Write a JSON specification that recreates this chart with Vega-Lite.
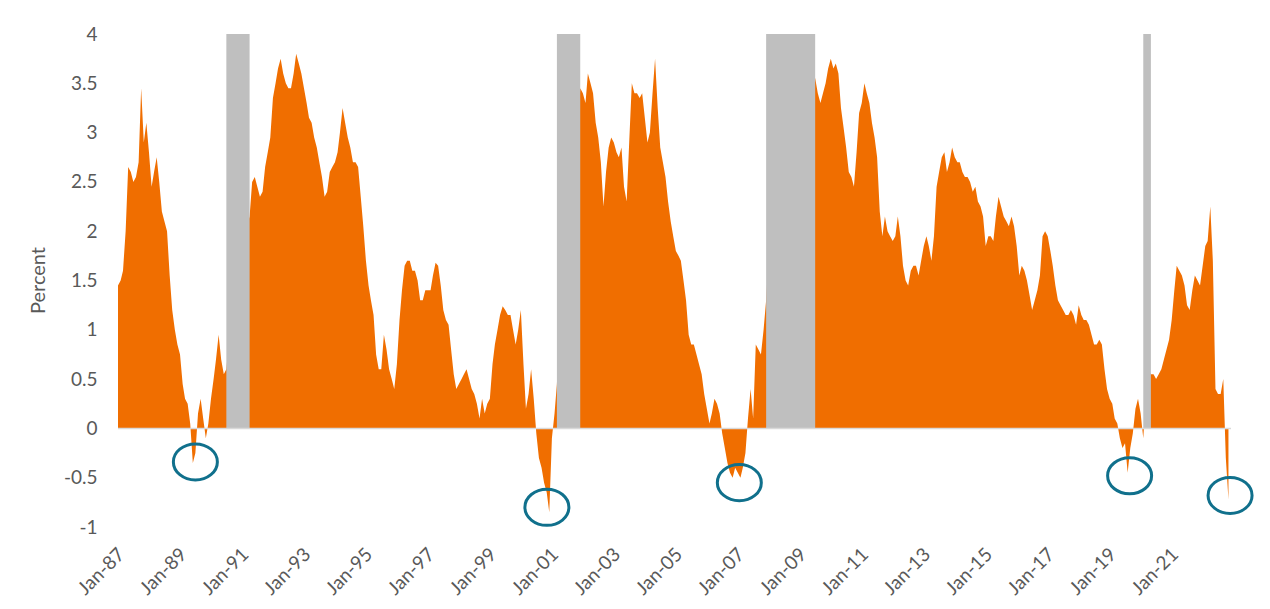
{
  "$schema": "https://vega.github.io/schema/vega-lite/v6.json",
  "width": 1113,
  "height": 493,
  "autosize": {"type": "none"},
  "padding": {"left": 118, "top": 34, "right": 39, "bottom": 82},
  "background": "white",
  "config": {"view": {"stroke": null}, "font": "Lato"},
  "datasets": {
    "spread": [
      {"date":"1987-01-01","value":1.45},{"date":"1987-02-01","value":1.5},{"date":"1987-03-01","value":1.6},{"date":"1987-04-01","value":2.0},{"date":"1987-05-01","value":2.65},{"date":"1987-06-01","value":2.6},{"date":"1987-07-01","value":2.5},{"date":"1987-08-01","value":2.55},{"date":"1987-09-01","value":2.7},{"date":"1987-10-01","value":3.45},{"date":"1987-11-01","value":2.9},{"date":"1987-12-01","value":3.1},
      {"date":"1988-01-01","value":2.8},{"date":"1988-02-01","value":2.45},{"date":"1988-03-01","value":2.6},{"date":"1988-04-01","value":2.75},{"date":"1988-05-01","value":2.5},{"date":"1988-06-01","value":2.2},{"date":"1988-07-01","value":2.1},{"date":"1988-08-01","value":2.0},{"date":"1988-09-01","value":1.55},{"date":"1988-10-01","value":1.2},{"date":"1988-11-01","value":1.0},{"date":"1988-12-01","value":0.85},
      {"date":"1989-01-01","value":0.75},{"date":"1989-02-01","value":0.45},{"date":"1989-03-01","value":0.3},{"date":"1989-04-01","value":0.25},{"date":"1989-05-01","value":0.05},{"date":"1989-06-01","value":-0.35},{"date":"1989-07-01","value":-0.25},{"date":"1989-08-01","value":0.15},{"date":"1989-09-01","value":0.3},{"date":"1989-10-01","value":0.1},{"date":"1989-11-01","value":-0.1},{"date":"1989-12-01","value":0.05},
      {"date":"1990-01-01","value":0.3},{"date":"1990-02-01","value":0.5},{"date":"1990-03-01","value":0.7},{"date":"1990-04-01","value":0.95},{"date":"1990-05-01","value":0.7},{"date":"1990-06-01","value":0.55},{"date":"1990-07-01","value":0.6},{"date":"1990-08-01","value":0.9},{"date":"1990-09-01","value":1.1},{"date":"1990-10-01","value":1.4},{"date":"1990-11-01","value":1.4},{"date":"1990-12-01","value":1.5},
      {"date":"1991-01-01","value":1.7},{"date":"1991-02-01","value":1.9},{"date":"1991-03-01","value":2.05},{"date":"1991-04-01","value":2.15},{"date":"1991-05-01","value":2.5},{"date":"1991-06-01","value":2.55},{"date":"1991-07-01","value":2.45},{"date":"1991-08-01","value":2.35},{"date":"1991-09-01","value":2.4},{"date":"1991-10-01","value":2.65},{"date":"1991-11-01","value":2.8},{"date":"1991-12-01","value":2.95},
      {"date":"1992-01-01","value":3.35},{"date":"1992-02-01","value":3.5},{"date":"1992-03-01","value":3.65},{"date":"1992-04-01","value":3.75},{"date":"1992-05-01","value":3.6},{"date":"1992-06-01","value":3.5},{"date":"1992-07-01","value":3.45},{"date":"1992-08-01","value":3.45},{"date":"1992-09-01","value":3.6},{"date":"1992-10-01","value":3.8},{"date":"1992-11-01","value":3.7},{"date":"1992-12-01","value":3.6},
      {"date":"1993-01-01","value":3.45},{"date":"1993-02-01","value":3.3},{"date":"1993-03-01","value":3.15},{"date":"1993-04-01","value":3.1},{"date":"1993-05-01","value":2.95},{"date":"1993-06-01","value":2.85},{"date":"1993-07-01","value":2.7},{"date":"1993-08-01","value":2.55},{"date":"1993-09-01","value":2.35},{"date":"1993-10-01","value":2.4},{"date":"1993-11-01","value":2.6},{"date":"1993-12-01","value":2.65},
      {"date":"1994-01-01","value":2.7},{"date":"1994-02-01","value":2.8},{"date":"1994-03-01","value":3.0},{"date":"1994-04-01","value":3.25},{"date":"1994-05-01","value":3.1},{"date":"1994-06-01","value":2.95},{"date":"1994-07-01","value":2.85},{"date":"1994-08-01","value":2.7},{"date":"1994-09-01","value":2.7},{"date":"1994-10-01","value":2.65},{"date":"1994-11-01","value":2.35},{"date":"1994-12-01","value":2.05},
      {"date":"1995-01-01","value":1.7},{"date":"1995-02-01","value":1.45},{"date":"1995-03-01","value":1.3},{"date":"1995-04-01","value":1.15},{"date":"1995-05-01","value":0.75},{"date":"1995-06-01","value":0.6},{"date":"1995-07-01","value":0.6},{"date":"1995-08-01","value":0.95},{"date":"1995-09-01","value":0.8},{"date":"1995-10-01","value":0.6},{"date":"1995-11-01","value":0.5},{"date":"1995-12-01","value":0.4},
      {"date":"1996-01-01","value":0.65},{"date":"1996-02-01","value":1.1},{"date":"1996-03-01","value":1.4},{"date":"1996-04-01","value":1.65},{"date":"1996-05-01","value":1.7},{"date":"1996-06-01","value":1.7},{"date":"1996-07-01","value":1.6},{"date":"1996-08-01","value":1.6},{"date":"1996-09-01","value":1.5},{"date":"1996-10-01","value":1.3},{"date":"1996-11-01","value":1.3},{"date":"1996-12-01","value":1.4},
      {"date":"1997-01-01","value":1.4},{"date":"1997-02-01","value":1.4},{"date":"1997-03-01","value":1.55},{"date":"1997-04-01","value":1.68},{"date":"1997-05-01","value":1.65},{"date":"1997-06-01","value":1.45},{"date":"1997-07-01","value":1.2},{"date":"1997-08-01","value":1.1},{"date":"1997-09-01","value":1.05},{"date":"1997-10-01","value":0.8},{"date":"1997-11-01","value":0.55},{"date":"1997-12-01","value":0.4},
      {"date":"1998-01-01","value":0.45},{"date":"1998-02-01","value":0.5},{"date":"1998-03-01","value":0.55},{"date":"1998-04-01","value":0.6},{"date":"1998-05-01","value":0.5},{"date":"1998-06-01","value":0.4},{"date":"1998-07-01","value":0.35},{"date":"1998-08-01","value":0.25},{"date":"1998-09-01","value":0.1},{"date":"1998-10-01","value":0.3},{"date":"1998-11-01","value":0.15},{"date":"1998-12-01","value":0.25},
      {"date":"1999-01-01","value":0.3},{"date":"1999-02-01","value":0.65},{"date":"1999-03-01","value":0.85},{"date":"1999-04-01","value":1.0},{"date":"1999-05-01","value":1.15},{"date":"1999-06-01","value":1.24},{"date":"1999-07-01","value":1.2},{"date":"1999-08-01","value":1.15},{"date":"1999-09-01","value":1.15},{"date":"1999-10-01","value":1.0},{"date":"1999-11-01","value":0.85},{"date":"1999-12-01","value":1.0},
      {"date":"2000-01-01","value":1.2},{"date":"2000-02-01","value":0.65},{"date":"2000-03-01","value":0.2},{"date":"2000-04-01","value":0.35},{"date":"2000-05-01","value":0.6},{"date":"2000-06-01","value":0.3},{"date":"2000-07-01","value":-0.05},{"date":"2000-08-01","value":-0.3},{"date":"2000-09-01","value":-0.4},{"date":"2000-10-01","value":-0.55},{"date":"2000-11-01","value":-0.65},{"date":"2000-12-01","value":-0.85},
      {"date":"2001-01-01","value":-0.1},{"date":"2001-02-01","value":0.15},{"date":"2001-03-01","value":0.45},{"date":"2001-04-01","value":1.0},{"date":"2001-05-01","value":1.7},{"date":"2001-06-01","value":1.9},{"date":"2001-07-01","value":1.8},{"date":"2001-08-01","value":1.7},{"date":"2001-09-01","value":2.3},{"date":"2001-10-01","value":2.4},{"date":"2001-11-01","value":2.9},{"date":"2001-12-01","value":3.45},
      {"date":"2002-01-01","value":3.4},{"date":"2002-02-01","value":3.3},{"date":"2002-03-01","value":3.6},{"date":"2002-04-01","value":3.5},{"date":"2002-05-01","value":3.4},{"date":"2002-06-01","value":3.1},{"date":"2002-07-01","value":2.95},{"date":"2002-08-01","value":2.7},{"date":"2002-09-01","value":2.25},{"date":"2002-10-01","value":2.6},{"date":"2002-11-01","value":2.85},{"date":"2002-12-01","value":2.95},
      {"date":"2003-01-01","value":2.9},{"date":"2003-02-01","value":2.8},{"date":"2003-03-01","value":2.75},{"date":"2003-04-01","value":2.85},{"date":"2003-05-01","value":2.45},{"date":"2003-06-01","value":2.3},{"date":"2003-07-01","value":2.9},{"date":"2003-08-01","value":3.5},{"date":"2003-09-01","value":3.4},{"date":"2003-10-01","value":3.4},{"date":"2003-11-01","value":3.35},{"date":"2003-12-01","value":3.4},
      {"date":"2004-01-01","value":3.15},{"date":"2004-02-01","value":2.9},{"date":"2004-03-01","value":3.0},{"date":"2004-04-01","value":3.4},{"date":"2004-05-01","value":3.75},{"date":"2004-06-01","value":3.25},{"date":"2004-07-01","value":2.85},{"date":"2004-08-01","value":2.7},{"date":"2004-09-01","value":2.55},{"date":"2004-10-01","value":2.3},{"date":"2004-11-01","value":2.1},{"date":"2004-12-01","value":1.95},
      {"date":"2005-01-01","value":1.8},{"date":"2005-02-01","value":1.75},{"date":"2005-03-01","value":1.7},{"date":"2005-04-01","value":1.5},{"date":"2005-05-01","value":1.3},{"date":"2005-06-01","value":0.95},{"date":"2005-07-01","value":0.85},{"date":"2005-08-01","value":0.85},{"date":"2005-09-01","value":0.75},{"date":"2005-10-01","value":0.65},{"date":"2005-11-01","value":0.55},{"date":"2005-12-01","value":0.35},
      {"date":"2006-01-01","value":0.2},{"date":"2006-02-01","value":0.05},{"date":"2006-03-01","value":0.15},{"date":"2006-04-01","value":0.3},{"date":"2006-05-01","value":0.25},{"date":"2006-06-01","value":0.15},{"date":"2006-07-01","value":-0.05},{"date":"2006-08-01","value":-0.2},{"date":"2006-09-01","value":-0.35},{"date":"2006-10-01","value":-0.45},{"date":"2006-11-01","value":-0.5},{"date":"2006-12-01","value":-0.4},
      {"date":"2007-01-01","value":-0.45},{"date":"2007-02-01","value":-0.5},{"date":"2007-03-01","value":-0.4},{"date":"2007-04-01","value":-0.25},{"date":"2007-05-01","value":0.1},{"date":"2007-06-01","value":0.4},{"date":"2007-07-01","value":0.1},{"date":"2007-08-01","value":0.85},{"date":"2007-09-01","value":0.8},{"date":"2007-10-01","value":0.75},{"date":"2007-11-01","value":1.0},{"date":"2007-12-01","value":1.3},
      {"date":"2008-01-01","value":1.8},{"date":"2008-02-01","value":2.0},{"date":"2008-03-01","value":2.3},{"date":"2008-04-01","value":2.4},{"date":"2008-05-01","value":2.1},{"date":"2008-06-01","value":2.2},{"date":"2008-07-01","value":2.3},{"date":"2008-08-01","value":2.1},{"date":"2008-09-01","value":2.4},{"date":"2008-10-01","value":3.0},{"date":"2008-11-01","value":3.3},{"date":"2008-12-01","value":2.3},
      {"date":"2009-01-01","value":2.4},{"date":"2009-02-01","value":2.6},{"date":"2009-03-01","value":2.7},{"date":"2009-04-01","value":2.8},{"date":"2009-05-01","value":3.2},{"date":"2009-06-01","value":3.5},{"date":"2009-07-01","value":3.55},{"date":"2009-08-01","value":3.4},{"date":"2009-09-01","value":3.3},{"date":"2009-10-01","value":3.4},{"date":"2009-11-01","value":3.5},{"date":"2009-12-01","value":3.65},
      {"date":"2010-01-01","value":3.75},{"date":"2010-02-01","value":3.65},{"date":"2010-03-01","value":3.7},{"date":"2010-04-01","value":3.6},{"date":"2010-05-01","value":3.25},{"date":"2010-06-01","value":3.05},{"date":"2010-07-01","value":2.85},{"date":"2010-08-01","value":2.6},{"date":"2010-09-01","value":2.55},{"date":"2010-10-01","value":2.45},{"date":"2010-11-01","value":2.8},{"date":"2010-12-01","value":3.2},
      {"date":"2011-01-01","value":3.3},{"date":"2011-02-01","value":3.5},{"date":"2011-03-01","value":3.4},{"date":"2011-04-01","value":3.3},{"date":"2011-05-01","value":3.1},{"date":"2011-06-01","value":2.95},{"date":"2011-07-01","value":2.75},{"date":"2011-08-01","value":2.2},{"date":"2011-09-01","value":1.95},{"date":"2011-10-01","value":2.15},{"date":"2011-11-01","value":2.0},{"date":"2011-12-01","value":1.95},
      {"date":"2012-01-01","value":1.9},{"date":"2012-02-01","value":1.95},{"date":"2012-03-01","value":2.15},{"date":"2012-04-01","value":1.95},{"date":"2012-05-01","value":1.65},{"date":"2012-06-01","value":1.5},{"date":"2012-07-01","value":1.45},{"date":"2012-08-01","value":1.6},{"date":"2012-09-01","value":1.65},{"date":"2012-10-01","value":1.65},{"date":"2012-11-01","value":1.55},{"date":"2012-12-01","value":1.7},
      {"date":"2013-01-01","value":1.85},{"date":"2013-02-01","value":1.95},{"date":"2013-03-01","value":1.85},{"date":"2013-04-01","value":1.7},{"date":"2013-05-01","value":1.95},{"date":"2013-06-01","value":2.45},{"date":"2013-07-01","value":2.6},{"date":"2013-08-01","value":2.75},{"date":"2013-09-01","value":2.8},{"date":"2013-10-01","value":2.6},{"date":"2013-11-01","value":2.7},{"date":"2013-12-01","value":2.85},
      {"date":"2014-01-01","value":2.75},{"date":"2014-02-01","value":2.7},{"date":"2014-03-01","value":2.7},{"date":"2014-04-01","value":2.6},{"date":"2014-05-01","value":2.55},{"date":"2014-06-01","value":2.55},{"date":"2014-07-01","value":2.5},{"date":"2014-08-01","value":2.4},{"date":"2014-09-01","value":2.45},{"date":"2014-10-01","value":2.3},{"date":"2014-11-01","value":2.25},{"date":"2014-12-01","value":2.15},
      {"date":"2015-01-01","value":1.85},{"date":"2015-02-01","value":1.95},{"date":"2015-03-01","value":1.95},{"date":"2015-04-01","value":1.9},{"date":"2015-05-01","value":2.15},{"date":"2015-06-01","value":2.35},{"date":"2015-07-01","value":2.25},{"date":"2015-08-01","value":2.15},{"date":"2015-09-01","value":2.1},{"date":"2015-10-01","value":2.05},{"date":"2015-11-01","value":2.15},{"date":"2015-12-01","value":2.05},
      {"date":"2016-01-01","value":1.85},{"date":"2016-02-01","value":1.55},{"date":"2016-03-01","value":1.65},{"date":"2016-04-01","value":1.6},{"date":"2016-05-01","value":1.5},{"date":"2016-06-01","value":1.35},{"date":"2016-07-01","value":1.2},{"date":"2016-08-01","value":1.3},{"date":"2016-09-01","value":1.4},{"date":"2016-10-01","value":1.55},{"date":"2016-11-01","value":1.95},{"date":"2016-12-01","value":2.0},
      {"date":"2017-01-01","value":1.95},{"date":"2017-02-01","value":1.8},{"date":"2017-03-01","value":1.65},{"date":"2017-04-01","value":1.45},{"date":"2017-05-01","value":1.3},{"date":"2017-06-01","value":1.25},{"date":"2017-07-01","value":1.2},{"date":"2017-08-01","value":1.15},{"date":"2017-09-01","value":1.15},{"date":"2017-10-01","value":1.2},{"date":"2017-11-01","value":1.15},{"date":"2017-12-01","value":1.05},
      {"date":"2018-01-01","value":1.25},{"date":"2018-02-01","value":1.15},{"date":"2018-03-01","value":1.1},{"date":"2018-04-01","value":1.1},{"date":"2018-05-01","value":1.05},{"date":"2018-06-01","value":0.95},{"date":"2018-07-01","value":0.85},{"date":"2018-08-01","value":0.85},{"date":"2018-09-01","value":0.9},{"date":"2018-10-01","value":0.85},{"date":"2018-11-01","value":0.6},{"date":"2018-12-01","value":0.4},
      {"date":"2019-01-01","value":0.3},{"date":"2019-02-01","value":0.25},{"date":"2019-03-01","value":0.1},{"date":"2019-04-01","value":0.05},{"date":"2019-05-01","value":-0.1},{"date":"2019-06-01","value":-0.2},{"date":"2019-07-01","value":-0.15},{"date":"2019-08-01","value":-0.45},{"date":"2019-09-01","value":-0.2},{"date":"2019-10-01","value":-0.05},{"date":"2019-11-01","value":0.2},{"date":"2019-12-01","value":0.3},
      {"date":"2020-01-01","value":0.15},{"date":"2020-02-01","value":-0.1},{"date":"2020-03-01","value":0.3},{"date":"2020-04-01","value":0.6},{"date":"2020-05-01","value":0.55},{"date":"2020-06-01","value":0.55},{"date":"2020-07-01","value":0.5},{"date":"2020-08-01","value":0.55},{"date":"2020-09-01","value":0.6},{"date":"2020-10-01","value":0.7},{"date":"2020-11-01","value":0.8},{"date":"2020-12-01","value":0.9},
      {"date":"2021-01-01","value":1.1},{"date":"2021-02-01","value":1.4},{"date":"2021-03-01","value":1.65},{"date":"2021-04-01","value":1.6},{"date":"2021-05-01","value":1.55},{"date":"2021-06-01","value":1.45},{"date":"2021-07-01","value":1.25},{"date":"2021-08-01","value":1.2},{"date":"2021-09-01","value":1.4},{"date":"2021-10-01","value":1.55},{"date":"2021-11-01","value":1.5},{"date":"2021-12-01","value":1.45},
      {"date":"2022-01-01","value":1.65},{"date":"2022-02-01","value":1.85},{"date":"2022-03-01","value":1.9},{"date":"2022-04-01","value":2.25},{"date":"2022-05-01","value":1.7},{"date":"2022-06-01","value":0.4},{"date":"2022-07-01","value":0.35},{"date":"2022-08-01","value":0.35},{"date":"2022-09-01","value":0.5},{"date":"2022-10-01","value":-0.3},{"date":"2022-11-01","value":-0.72}
    ],
    "recessions": [
      {"start":"1990-07-01","end":"1991-04-01"},
      {"start":"2001-03-01","end":"2001-12-01"},
      {"start":"2007-12-01","end":"2009-07-01"},
      {"start":"2020-02-01","end":"2020-05-01"}
    ],
    "inversions": [
      {"date":"1989-07-01","value":-0.34},
      {"date":"2000-11-03","value":-0.8},
      {"date":"2007-01-19","value":-0.55},
      {"date":"2019-08-24","value":-0.48},
      {"date":"2022-11-20","value":-0.68}
    ]
  },
  "layer": [
    {
      "data": {"name": "spread"},
      "mark": {"type": "area", "color": "#F06E00", "interpolate": "linear"},
      "encoding": {
        "x": {
          "field": "date", "type": "temporal",
          "scale": {"type": "utc", "domain": [{"year": 1987, "month": 1, "date": 1, "utc": true}, {"year": 2022, "month": 12, "date": 1, "utc": true}]},
          "axis": {
            "values": [
              {"year":1987,"month":1,"date":1,"utc":true},{"year":1989,"month":1,"date":1,"utc":true},{"year":1991,"month":1,"date":1,"utc":true},{"year":1993,"month":1,"date":1,"utc":true},{"year":1995,"month":1,"date":1,"utc":true},{"year":1997,"month":1,"date":1,"utc":true},{"year":1999,"month":1,"date":1,"utc":true},{"year":2001,"month":1,"date":1,"utc":true},{"year":2003,"month":1,"date":1,"utc":true},{"year":2005,"month":1,"date":1,"utc":true},{"year":2007,"month":1,"date":1,"utc":true},{"year":2009,"month":1,"date":1,"utc":true},{"year":2011,"month":1,"date":1,"utc":true},{"year":2013,"month":1,"date":1,"utc":true},{"year":2015,"month":1,"date":1,"utc":true},{"year":2017,"month":1,"date":1,"utc":true},{"year":2019,"month":1,"date":1,"utc":true},{"year":2021,"month":1,"date":1,"utc":true}
            ],
            "labelExpr": "utcFormat(datum.value, '%b-%y')",
            "labelAngle": -45, "labelAlign": "right", "labelBaseline": "middle",
            "labelPadding": 24, "labelOffset": 3,
            "labelFont": "Lato", "labelFontSize": 19, "labelColor": "#595959",
            "labelOverlap": false, "labelFlush": false, "labelBound": false,
            "domain": false, "ticks": false, "grid": false, "title": null
          }
        },
        "y": {
          "field": "value", "type": "quantitative",
          "scale": {"domain": [-1, 4], "nice": false, "zero": false},
          "axis": {
            "values": [-1, -0.5, 0, 0.5, 1, 1.5, 2, 2.5, 3, 3.5, 4],
            "labelExpr": "datum.value < 0 ? '-' + format(-datum.value, '~g') : format(datum.value, '~g')",
            "labelFont": "Lato", "labelFontSize": 19, "labelColor": "#595959",
            "labelPadding": 21, "labelFlush": false, "labelOverlap": false,
            "domain": false, "ticks": false, "grid": false,
            "title": "Percent", "titleFont": "Lato", "titleFontSize": 20, "titleFontWeight": "normal", "titleColor": "#595959",
            "titleX": -80, "titleY": 246, "titleBaseline": "middle", "titleAlign": "center", "titleAngle": 270
          }
        }
      }
    },
    {
      "data": {"name": "recessions"},
      "mark": {"type": "rect", "color": "#BFBFBF"},
      "encoding": {
        "x": {"field": "start", "type": "temporal"},
        "x2": {"field": "end"},
        "y": {"datum": 0},
        "y2": {"datum": 4}
      }
    },
    {
      "data": {"values": [{}]},
      "mark": {"type": "rule", "color": "#D9D9D9", "strokeWidth": 1.5},
      "encoding": {"y": {"datum": 0}}
    },
    {
      "data": {"name": "inversions"},
      "mark": {"type": "point", "shape": "M -1 0 A 1 0.82 0 1 1 1 0 A 1 0.82 0 1 1 -1 0 Z", "size": 1936, "stroke": "#10708C", "strokeWidth": 3, "filled": false, "opacity": 1},
      "encoding": {
        "x": {"field": "date", "type": "temporal"},
        "y": {"field": "value", "type": "quantitative"}
      }
    }
  ]
}
